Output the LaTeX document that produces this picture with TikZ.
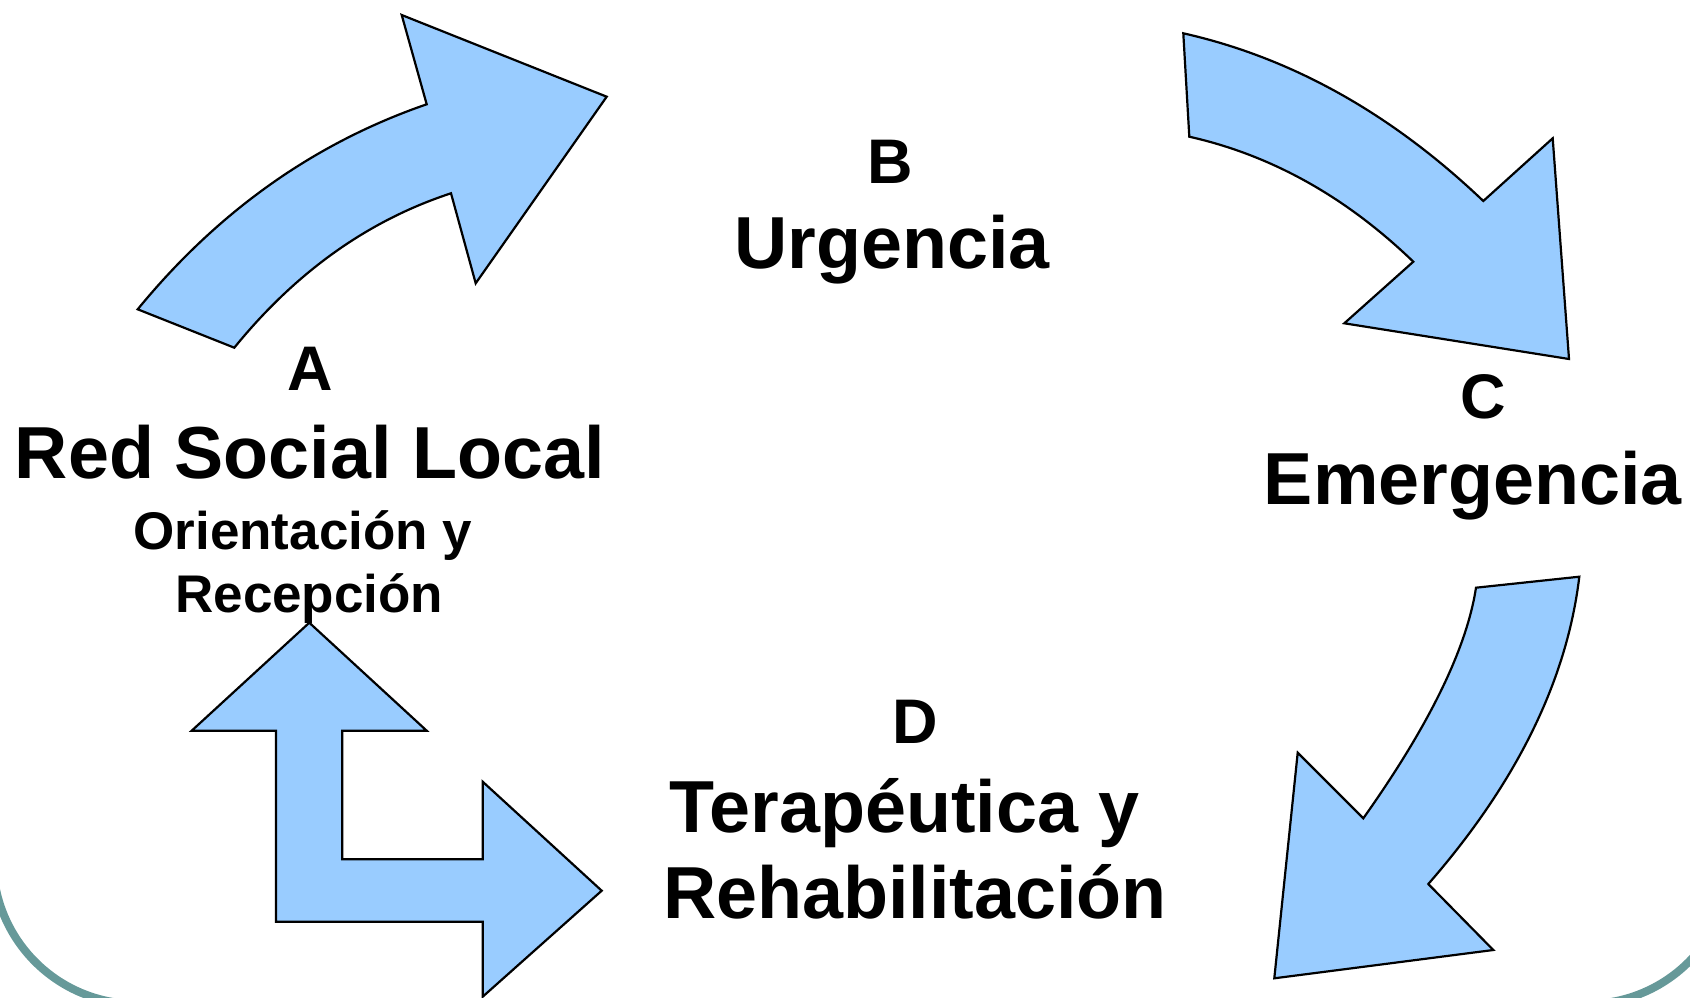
\documentclass[tikz,border=0pt]{standalone}
\usepackage{fontspec}
\setmainfont{Liberation Sans}
\definecolor{flecha}{RGB}{153,204,255}
\definecolor{marco}{RGB}{102,153,153}

\begin{document}
\begin{tikzpicture}[x=1pt, y=-1pt,
 bloque/.style={draw=black, fill=flecha, line width=2.2pt},
 letra/.style={anchor=base, inner sep=0pt, font=\fontsize{63}{70}\selectfont\bfseries},
 titulo/.style={anchor=base, inner sep=0pt, font=\fontsize{73.7}{86}\selectfont\bfseries},
 detalle/.style={anchor=base, inner sep=0pt, font=\fontsize{53}{62}\selectfont\bfseries}]
 \useasboundingbox (0,0) rectangle (1690,998);
 \clip (0,0) rectangle (1690,998);
 \draw[marco, line width=8pt, rounded corners=144pt] (-7,-200) rectangle (1731,1004);

 \draw[bloque] (137.7,309.3) -- (234.3,347.7)
  .. controls (296.0,271.8) and (368.3,220.4) .. (451,193.3)
  -- (475.7,283.3) -- (606.7,96.7) -- (401.7,15) -- (426.7,104.3)
  .. controls (314.4,143.0) and (218.0,211.3) .. (137.7,309.3) -- cycle;
 \draw[bloque] (1183.3,33.3) -- (1189.3,136.7)
  .. controls (1271.4,155.2) and (1346.0,196.8) .. (1413.3,261.7)
  -- (1344.3,323.3) -- (1569,359) -- (1552.7,138.3) -- (1483.3,201)
  .. controls (1391.6,113.6) and (1291.6,57.7) .. (1183.3,33.3) -- cycle;
 \draw[bloque] (1579.3,576.7) -- (1476,587.7)
  .. controls (1466.6,648.8) and (1429.0,725.6) .. (1363.3,818.3)
  -- (1297.7,752.7) -- (1274.3,978.3) -- (1493.3,950) -- (1428.3,884)
  .. controls (1516.6,782.8) and (1566.9,680.4) .. (1579.3,576.7) -- cycle;
 \draw[bloque] (309.3,622.7) -- (191.7,730.7) -- (276,730.7) -- (276,921.7)
  -- (482.7,921.7) -- (482.7,996.7) -- (601.7,890.7) -- (482.7,781.7)
  -- (482.7,859.3) -- (342.3,859.3) -- (342.3,730.7) -- (426.7,730.7) -- cycle;

 \node[letra] (letraA) at (310.4,390) {A};
 \node[titulo] (redlocal) at (309.8,478.5) {Red Social Local};
 \node[detalle] (orientacion) at (302.9,549.7) {Orientación y};
 \node[detalle] (recepcion) at (309.3,612) {Recepción};

 \node[letra] (letraB) at (890.3,183) {B};
 \node[titulo] (urgencia) at (892,268.4) {Urgencia};

 \node[letra] (letraC) at (1483,418) {C};
 \node[titulo] (emergencia) at (1472.8,504.4) {Emergencia};

 \node[letra] (letraD) at (915,743.7) {D};
 \node[titulo] (terapeutica) at (904.8,832) {Terapéutica y};
 \node[titulo] (rehabilitacion) at (915,918) {Rehabilitación};
\end{tikzpicture}
\end{document}
